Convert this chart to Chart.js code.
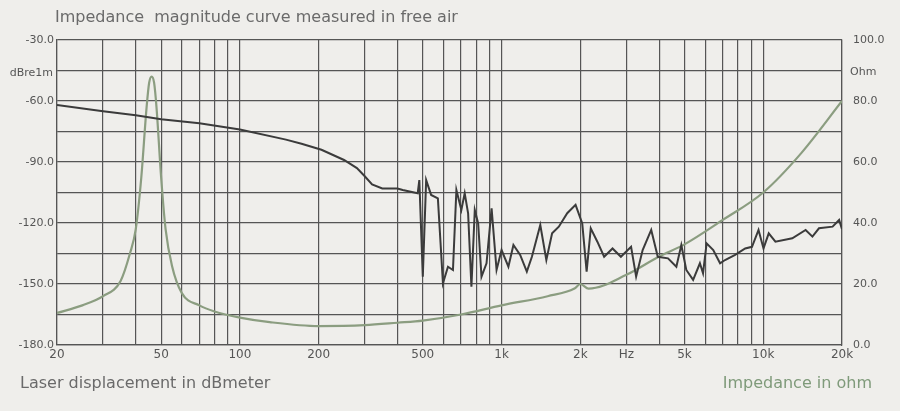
<!DOCTYPE html>
<html>
<head>
<meta charset="utf-8">
<script src="https://cdn.jsdelivr.net/npm/chart.js@4"></script>
<style>
  body { margin: 0; background: #efeeeb; }
  #wrap { width: 900px; height: 411px; position: relative; }
</style>
</head>
<body>
<div id="wrap"><canvas id="myChart"></canvas></div>
<script>
// displacement curve (dB re 1m) - frequency / value pairs
const dispFreq = [20, 30, 40, 50, 70, 100, 150, 172, 205, 250, 280, 300, 320, 350, 400,
  419, 478, 485, 500, 515, 538, 571, 597, 624, 652, 672, 702, 723, 745, 767, 790, 814, 838,
  876, 916, 957, 1000, 1062, 1110, 1178, 1249, 1306, 1406, 1483, 1560, 1655, 1782, 1918,
  2034, 2114, 2192, 2323, 2466, 2655, 2858, 3126, 3268, 3461, 3732, 3954, 4326, 4656, 4864,
  5082, 5396, 5728, 5888, 6076, 6442, 6840, 7146, 7808, 8532, 9058, 9594, 10024, 10496,
  11132, 12914, 14522, 15418, 16332, 18408, 19500, 20000];
const dispDb = [-62, -65, -67, -69, -71, -74, -79, -81, -84, -89, -93, -97, -101, -103, -103,
  -103.8, -105.4, -98.9, -146.4, -98.9, -106.2, -107.9, -149.7, -141.5, -143.1, -103.8, -113.6,
  -105.4, -115.2, -151.3, -113.6, -120.2, -146.4, -139.8, -112.8, -143.1, -133.3, -141.5,
  -130.8, -135.7, -143.9, -136.6, -121.0, -138.2, -125.1, -121.8, -115.2, -111.1, -120.2,
  -143.9, -122.6, -129.2, -136.6, -132.5, -136.6, -131.7, -146.4, -133.3, -123.4, -136.6,
  -137.4, -141.5, -130.8, -143.1, -148.0, -139.8, -144.7, -130.0, -133.3, -139.8, -138.2,
  -135.7, -132.5, -131.7, -123.4, -132.5, -125.1, -129.2, -127.5, -123.4, -126.7, -122.6,
  -121.8, -118.5, -123];
// impedance curve (ohm)
const impFreq = [20, 25, 30, 35, 38, 40, 42, 44, 45, 46, 47, 48, 50, 52, 55, 60, 70, 80, 100,
  130, 200, 300, 400, 500, 700, 1000, 1500, 1900, 2000, 2150, 3000, 4000, 5000, 7000, 10000,
  14000, 20000];
const impOhm = [10.5, 13, 16, 21, 30, 38, 55, 78, 86, 88, 86, 78, 55, 38, 26, 17, 13, 11, 9,
  7.5, 6.2, 6.5, 7.3, 8, 10, 13, 16, 18.5, 20, 18.5, 23, 29, 33, 41, 50, 63, 80];
const xTickLabels = { 20: '20', 50: '50', 100: '100', 200: '200', 500: '500', 1000: '1k',
  2000: '2k', 3000: 'Hz', 5000: '5k', 10000: '10k', 20000: '20k' };

const gridTicks = [];
[10, 100, 1000, 10000].forEach((d) => {
  for (let m = 1; m < 10; m += 1) {
    const v = d * m;
    if (v >= 20 && v <= 20000) gridTicks.push(v);
  }
});

const textPlugin = {
  id: 'texts',
  afterDraw(chart) {
    const { ctx, chartArea } = chart;
    ctx.save();
    ctx.font = '16px "DejaVu Sans"';
    ctx.fillStyle = '#6a6a6a';
    ctx.textBaseline = 'middle';
    ctx.textAlign = 'left';
    ctx.fillText('Impedance  magnitude curve measured in free air', 55, 18);
    ctx.fillText('Laser displacement in dBmeter', 20, 384);
    ctx.fillStyle = '#7f9a7a';
    ctx.textAlign = 'right';
    ctx.fillText('Impedance in ohm', 872, 384);
    ctx.font = '11px "DejaVu Sans"';
    ctx.fillStyle = '#555';
    ctx.textAlign = 'right';
    ctx.fillText('dBre1m', chartArea.left - 4, 73);
    ctx.textAlign = 'left';
    ctx.fillText('Ohm', chartArea.right + 8, 72);
    ctx.restore();
  },
};

new Chart(document.getElementById('myChart').getContext('2d'), {
  type: 'line',
  data: {
    datasets: [{
      label: 'Displacement',
      data: dispFreq.map((f, i) => ({ x: f, y: dispDb[i] })),
      borderColor: '#3b3b3b',
      borderWidth: 2,
      pointRadius: 0,
      yAxisID: 'y',
    }, {
      label: 'Impedance',
      data: impFreq.map((f, i) => ({ x: f, y: impOhm[i] })),
      borderColor: '#8b9d80',
      borderWidth: 2.2,
      pointRadius: 0,
      cubicInterpolationMode: 'monotone',
      yAxisID: 'y2',
    }],
  },
  options: {
    responsive: true,
    maintainAspectRatio: false,
    animation: false,
    layout: { padding: { top: 40, left: 0, right: 0, bottom: 0 } },
    plugins: { legend: { display: false }, tooltip: { enabled: false } },
    scales: {
      x: {
        type: 'logarithmic',
        min: 20,
        max: 20000,
        afterBuildTicks: (axis) => { axis.ticks = gridTicks.map((v) => ({ value: v })); },
        afterFit: (axis) => { axis.height = 66; },
        ticks: {
          autoSkip: false,
          maxRotation: 0,
          color: '#555',
          font: { size: 12, family: 'DejaVu Sans' },
          callback: (v) => xTickLabels[v] || '',
        },
        grid: { color: '#555', lineWidth: 1.2, drawTicks: false },
        border: { color: '#555', width: 1.2 },
      },
      y: {
        position: 'left',
        min: -180,
        max: -30,
        afterFit: (axis) => { axis.width = 57; },
        ticks: {
          stepSize: 15,
          color: '#555',
          font: { size: 11, family: 'DejaVu Sans' },
          callback: (v) => (v % 30 === 0 ? v.toFixed(1) : ''),
        },
        grid: { color: '#555', lineWidth: 1.2, drawTicks: false },
        border: { color: '#555', width: 1.2 },
      },
      y2: {
        position: 'right',
        min: 0,
        max: 100,
        afterFit: (axis) => { axis.width = 58; },
        ticks: {
          stepSize: 10,
          color: '#555',
          font: { size: 11, family: 'DejaVu Sans' },
          callback: (v) => (v % 20 === 0 ? v.toFixed(1) : ''),
        },
        grid: { display: false },
        border: { color: '#555', width: 1.2 },
      },
    },
  },
  plugins: [textPlugin],
});
</script>
</body>
</html>
